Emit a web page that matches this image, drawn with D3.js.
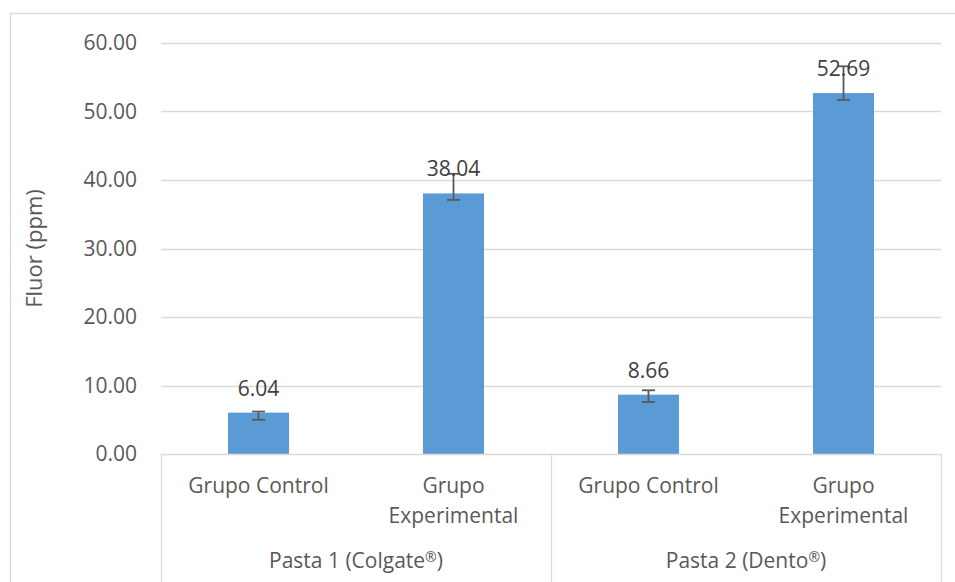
<!DOCTYPE html>
<html><head><meta charset="utf-8">
<script src="https://cdn.jsdelivr.net/npm/d3@7"></script>
<style>body{margin:0;background:#fff;}svg{display:block;}</style>
</head><body>
<svg id="c" width="955" height="582"></svg>
<script>
const groups = ["Pasta 1 (Colgate®)", "Pasta 2 (Dento®)"];
const categories = ["Grupo Control", "Grupo Experimental", "Grupo Control", "Grupo Experimental"];
const categoryGroup = [0, 0, 1, 1];
const values = [6.04, 38.04, 8.66, 52.69];
const errHigh = [6.2, 40.9, 9.3, 56.6];
const errLow = [5.0, 37.1, 7.6, 51.7];
const yTicks = [0, 10, 20, 30, 40, 50, 60];
const yTitle = "Fluor (ppm)";

const svg = d3.select("#c");
const font = "'Open Sans', sans-serif";
const textCol = "#595959";
const gridCol = "#D9D9D9";
const m = {left:161, right:941, top:43, bottom:454};

// chart border
svg.append("rect").attr("x",10.5).attr("y",13.5).attr("width",960).attr("height",600)
  .attr("fill","none").attr("stroke","#D9D9D9").attr("stroke-width",1.3);

const y = d3.scaleLinear().domain([0,60]).range([m.bottom, m.top]);
const keys = categories.map((c,i)=>i);
const x = d3.scaleBand().domain(keys).range([m.left, m.right])
  .paddingInner(0.687).paddingOuter(0.3435);

// gridlines
svg.append("g").selectAll("line").data(yTicks.filter(t=>t>0)).join("line")
  .attr("x1",m.left).attr("x2",m.right)
  .attr("y1",d=>Math.round(y(d))+0.5).attr("y2",d=>Math.round(y(d))+0.5)
  .attr("stroke",gridCol).attr("stroke-width",1.3);

// y axis labels
const yAxis = d3.axisLeft(y).tickValues(yTicks).tickFormat(d3.format(".2f")).tickSize(0).tickPadding(24);
const ya = svg.append("g").attr("transform",`translate(${m.left},0)`).call(yAxis);
ya.select(".domain").remove();
ya.selectAll("text").attr("font-family",font).attr("font-size",21).attr("fill",textCol);

// y title
svg.append("text").attr("transform",`translate(42,${(m.top+m.bottom)/2}) rotate(-90)`)
  .attr("text-anchor","middle").attr("font-family",font).attr("font-size",22)
  .attr("fill",textCol).text(yTitle);

// bars
svg.append("g").selectAll("rect").data(values).join("rect")
  .attr("x",(d,i)=>x(i)).attr("width",x.bandwidth())
  .attr("y",d=>y(d)).attr("height",d=>y(0)-y(d)).attr("fill","#5B9BD5");

// error bars
const eb = svg.append("g").attr("stroke","#595959").attr("stroke-width",1.8);
keys.forEach(i=>{
  const cx = x(i)+x.bandwidth()/2;
  eb.append("line").attr("x1",cx).attr("x2",cx).attr("y1",y(errHigh[i])).attr("y2",y(errLow[i]));
  [errHigh[i],errLow[i]].forEach(v=>{
    eb.append("line").attr("x1",cx-6.5).attr("x2",cx+6.5).attr("y1",y(v)).attr("y2",y(v));
  });
});

// data labels
svg.append("g").selectAll("text").data(values).join("text")
  .attr("x",(d,i)=>x(i)+x.bandwidth()/2).attr("y",d=>y(d)-17)
  .attr("text-anchor","middle").attr("font-family",font).attr("font-size",21)
  .attr("fill","#404040").text(d=>d3.format(".2f")(d));

// category axis
const ax = svg.append("g").attr("stroke",gridCol).attr("stroke-width",1.3);
ax.append("line").attr("x1",m.left).attr("x2",m.right).attr("y1",m.bottom+0.5).attr("y2",m.bottom+0.5);
const step = x.step();
const groupEdges = [m.left, m.left+2*step, m.right];
groupEdges.forEach(gx=>{
  ax.append("line").attr("x1",Math.round(gx)+0.5).attr("x2",Math.round(gx)+0.5)
    .attr("y1",m.bottom).attr("y2",600);
});

const cl = svg.append("g").attr("font-family",font).attr("font-size",21).attr("fill",textCol)
  .attr("text-anchor","middle");
categories.forEach((c,i)=>{
  const cx = x(i)+x.bandwidth()/2;
  const words = c === "Grupo Control" ? [c] : c.split(" ");
  words.forEach((w,k)=>{
    cl.append("text").attr("x",cx).attr("y",493+k*30).text(w);
  });
});
groups.forEach((g,gi)=>{
  const idx = categoryGroup.map((v,i)=>v===gi?i:-1).filter(i=>i>=0);
  const x0 = x(idx[0]) - x.paddingOuter()*step, x1 = x0 + idx.length*step;
  const t = cl.append("text").attr("x",(x0+x1)/2).attr("y",568);
  let pending = 0;
  g.split(/(®)/).filter(s=>s.length).forEach(s=>{
    if (s === "®") {
      t.append("tspan").attr("font-size",14).attr("dy",pending-6).text(s);
      pending = 6;
    } else {
      t.append("tspan").attr("dy",pending).text(s);
      pending = 0;
    }
  });
});
</script>
</body></html>
